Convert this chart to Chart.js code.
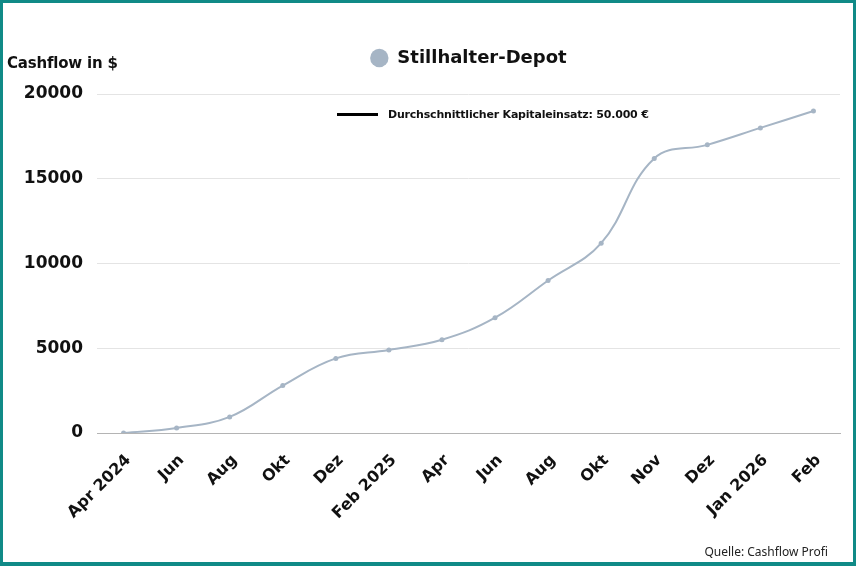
<!DOCTYPE html>
<html lang="de">
<head>
    <meta charset="UTF-8">
    <title>Stillhalter-Depot</title>
    <script src="https://cdn.jsdelivr.net/npm/chart.js"></script>
    <style>
        html, body { margin: 0; padding: 0; background: #fff; }
        .frame {
            position: relative;
            width: 856px;
            height: 566px;
            box-sizing: border-box;
            border: 3px solid #108a87;
            border-bottom-width: 4px;
            font-family: "DejaVu Sans", sans-serif;
        }
        .chart-box { position: absolute; left: 0; top: 0; width: 850px; height: 559px; }
        .y-title {
            position: absolute; left: 4px; top: 51px;
            font: bold 15px "DejaVu Sans", sans-serif; color: #111;
            letter-spacing: -0.2px;
        }
        .avg-note {
            position: absolute; left: 334px; top: 105px;
            display: flex; align-items: center;
            font: bold 11px "DejaVu Sans", sans-serif; color: #111;
            letter-spacing: -0.2px;
        }
        .avg-note .line { width: 41px; height: 3px; background: #000; margin-right: 10px; }
        .source {
            position: absolute; right: 25px; top: 540px;
            font: 12px "Liberation Sans Narrow", "Noto Sans", sans-serif; color: #222;
        }
    </style>
</head>
<body>
    <div class="frame">
        <div class="chart-box"><canvas id="cashflowChart"></canvas></div>
        <div class="y-title">Cashflow in $</div>
        <div class="avg-note"><span class="line"></span><span>Durchschnittlicher Kapitaleinsatz: 50.000 €</span></div>
        <div class="source">Quelle: Cashflow Profi</div>
    </div>

    <script>
        // Monate
        const months = ["Apr 2024", "Jun", "Aug", "Okt", "Dez", "Feb 2025", "Apr", "Jun",
                        "Aug", "Okt", "Nov", "Dez", "Jan 2026", "Feb"];

        // Kumulierter Cashflow in $
        const cashflow = [0, 300, 950, 2800, 4400, 4900, 5500, 6800,
                          9000, 11200, 16200, 17000, 18000, 19000];

        const yTicks = [0, 5000, 10000, 15000, 20000];

        const lineColor = "#a6b5c5";
        const boldFont = "DejaVu Sans";

        // Abstand unter der Legende
        const legendSpacer = {
            id: "legendSpacer",
            beforeInit(chart) {
                const origFit = chart.legend.fit;
                chart.legend.fit = function () {
                    origFit.bind(chart.legend)();
                    this.height += 17;
                };
            }
        };

        new Chart("cashflowChart", {
            type: "line",
            data: {
                labels: months,
                datasets: [{
                    label: "Stillhalter-Depot",
                    data: cashflow,
                    borderColor: lineColor,
                    backgroundColor: lineColor,
                    borderWidth: 2,
                    pointRadius: 2.5,
                    pointBackgroundColor: lineColor,
                    pointBorderWidth: 0,
                    tension: 0.4
                }]
            },
            options: {
                responsive: true,
                maintainAspectRatio: false,
                animation: false,
                layout: { padding: { top: 36, right: 13, left: 0, bottom: 0 } },
                plugins: {
                    legend: {
                        position: "top",
                        fullSize: false,
                        labels: {
                            usePointStyle: true,
                            pointStyle: "circle",
                            boxWidth: 18,
                            boxHeight: 13,
                            padding: 10,
                            color: "#111",
                            font: { family: boldFont, size: 18, weight: "bold" }
                        }
                    },
                    tooltip: { enabled: false }
                },
                scales: {
                    x: {
                        offset: true,
                        grid: { display: false },
                        border: { display: true, color: "#b4b4b4", width: 1 },
                        ticks: {
                            color: "#111",
                            minRotation: 45,
                            maxRotation: 45,
                            autoSkip: false,
                            padding: 10,
                            labelOffset: 5,
                            font: { family: boldFont, size: 16, weight: "bold" }
                        },
                        afterFit: s => { s.height = 129; }
                    },
                    y: {
                        min: 0,
                        max: 20000,
                        border: { display: false },
                        grid: {
                            drawTicks: false,
                            color: c => c.tick.value === 0 ? "#b4b4b4" : "#e4e4e4"
                        },
                        afterBuildTicks: s => { s.ticks = yTicks.map(v => ({ value: v })); },
                        ticks: {
                            color: "#111",
                            padding: 14,
                            font: { family: boldFont, size: 17, weight: "bold" },
                            callback: v => String(v)
                        },
                        afterFit: s => { s.width = 94; }
                    }
                }
            },
            plugins: [legendSpacer]
        });
    </script>
</body>
</html>
